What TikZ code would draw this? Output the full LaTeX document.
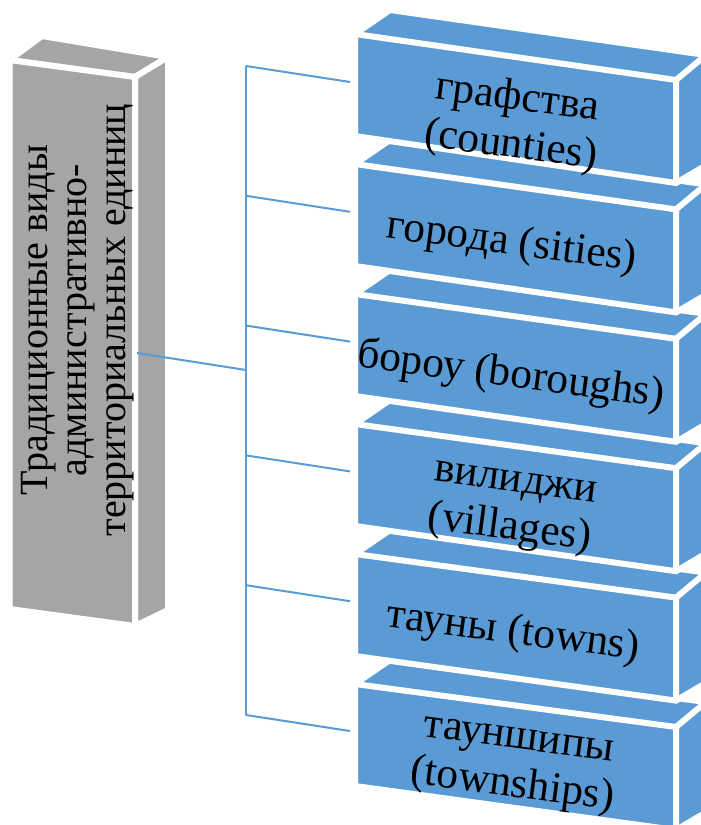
\documentclass[tikz,border=0pt]{standalone}
\usepackage{fontspec}
\setmainfont{Liberation Serif}
\definecolor{boxblue}{HTML}{5B9BD5}
\definecolor{boxgray}{HTML}{A5A5A5}
\definecolor{linkblue}{HTML}{5B9BD5}
\begin{document}
\begin{tikzpicture}[x=1pt,y=-1pt,
  gface/.style={fill=boxgray,draw=white,line width=6pt,line join=miter},
  bfill/.style={fill=boxblue},
  bedge/.style={draw=white,line width=6pt,line join=miter},
  link/.style={draw=linkblue,line width=2pt},
  lbl/.style={font=\fontsize{43.5}{48}\selectfont,align=center,inner sep=0pt,rotate=-7.5},
  glbl/.style={font=\fontsize{40}{39}\selectfont,align=center,inner sep=0pt,rotate=90}]
\useasboundingbox (0,0) rectangle (701,825);
\clip (0,0) rectangle (701,825);
% gray box
\path[gface] (9.5,60) -- (42,36) -- (168,57) -- (135,77) -- cycle;
\path[gface] (135,77) -- (168,57) -- (168,610) -- (135,626) -- cycle;
\path[gface] (9.5,60) -- (135,77) -- (135,626) -- (9.5,609) -- cycle;
\node[glbl] (g) at (78,320) {Традиционные виды\\административно-\\территориальных единиц};
% connectors
\coordinate (gout) at (137,353);
\coordinate (j) at (246,370);
\coordinate (ttop) at (246,66);
\coordinate (tbot) at (246,715);
\draw[link] (gout) -- (j);
\draw[link] (ttop) -- (tbot);
\foreach \i in {0,...,5}{
  \pgfmathsetmacro\ys{66+129.8*\i}
  \pgfmathsetmacro\ye{82+129.8*\i}
  \coordinate (s\i) at (246,\ys);
  \coordinate (e\i) at (350,\ye);
  \draw[link] (s\i) -- (e\i);
}
% blue boxes, bottom to top
\foreach \i in {5,4,...,0}{
  \pgfmathsetmacro\L{37+130*\i}
  \pgfmathsetmacro\R{83+129.4*\i}
  \path[bfill] (355,{\L-3}) -- (390,{\L-27}) -- (706,{\R-28}) -- (720,{\R-26}) -- (720,{\R+74}) -- (676,{\R+100}) -- (355,{\L+99}) -- cycle;
  \path[bedge] (720,{\R+74}) -- (676,{\R+100}) -- (355,{\L+99}) -- (355,{\L-3}) -- (390,{\L-27}) -- (706,{\R-28});
  \path[bedge] (355,{\L-3}) -- (676,{\R-3}) -- (676,{\R+100});
  \path[bedge] (676,{\R-3}) -- (706,{\R-28});
}
\node[lbl] (b0) at (514,123) {графства\\(counties)};
\node[lbl] (b1) at (512,244) {города (sities)};
\node[lbl] (b2) at (511,376) {бороу (boroughs)};
\node[lbl] (b3) at (512,510) {вилиджи\\(villages)};
\node[lbl] (b4) at (513,633) {тауны (towns)};
\node[lbl] (b5) at (515,767) {тауншипы\\(townships)};
\end{tikzpicture}
\end{document}
